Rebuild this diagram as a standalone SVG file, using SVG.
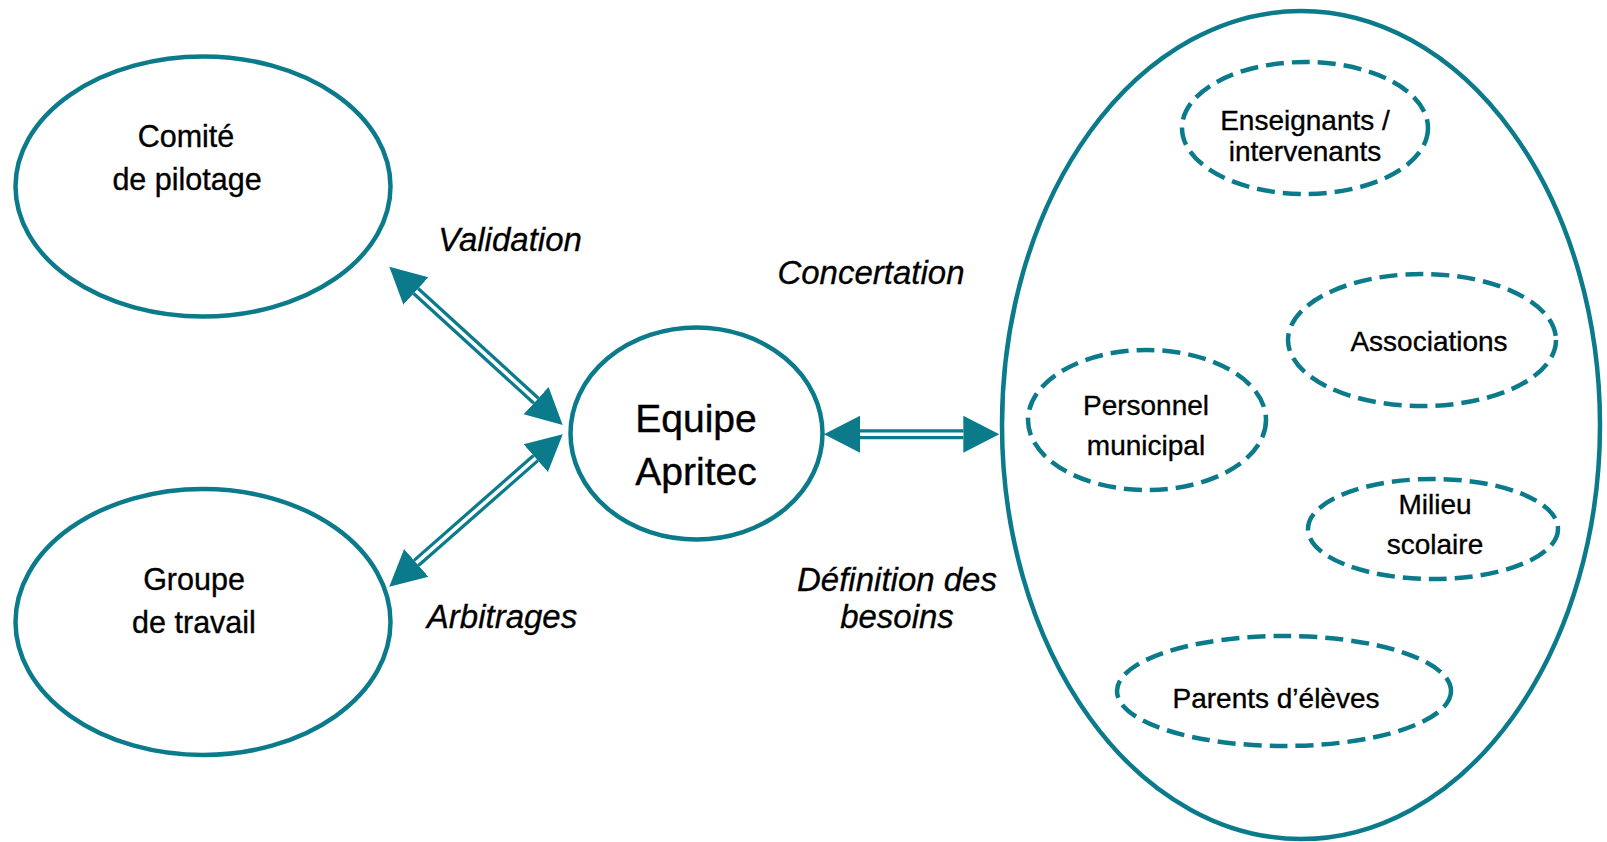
<svg xmlns="http://www.w3.org/2000/svg" width="1607" height="842" viewBox="0 0 1607 842">
<style>
  .node { fill: #ffffff; stroke: #0b7b8c; stroke-width: 4.5; }
  .dash { fill: none; stroke: #0b7b8c; stroke-width: 4.5; stroke-dasharray: 18 8; }
  .lbl { font-family: "Liberation Sans", Arial, sans-serif; font-size: 28px; fill: #000; stroke: #000; stroke-width: 0.35; text-anchor: middle; }
  .lbl2 { font-family: "Liberation Sans", Arial, sans-serif; font-size: 30.5px; fill: #000; stroke: #000; stroke-width: 0.35; text-anchor: middle; }
  .big { font-family: "Liberation Sans", Arial, sans-serif; font-size: 39px; fill: #000; stroke: #000; stroke-width: 0.4; text-anchor: middle; }
  .it { font-family: "Liberation Sans", Arial, sans-serif; font-size: 33px; font-style: italic; fill: #000; stroke: #000; stroke-width: 0.3; text-anchor: middle; }
  .shaft { fill: none; stroke: #0b7b8c; stroke-width: 10; marker-start: url(#head); marker-end: url(#head); }
  .gap { fill: none; stroke: #ffffff; stroke-width: 3.5; }
</style>
<defs>
  <marker id="head" markerUnits="userSpaceOnUse" viewBox="0 -20 40 40" markerWidth="40" markerHeight="40" refX="0" refY="0" orient="auto-start-reverse">
    <path d="M0,-18.5 L36,0 L0,18.5 z" fill="#0b7b8c"/>
  </marker>
</defs>
<rect width="1607" height="842" fill="#ffffff"/>

<g id="comite">
  <ellipse class="node" cx="203" cy="186.5" rx="187.5" ry="130"/>
  <text class="lbl2" x="186" y="147">Comité</text>
  <text class="lbl2" x="187" y="190">de pilotage</text>
</g>
<g id="groupe">
  <ellipse class="node" cx="203" cy="622" rx="187.5" ry="133"/>
  <text class="lbl2" x="194" y="590">Groupe</text>
  <text class="lbl2" x="194" y="633">de travail</text>
</g>
<g id="equipe">
  <ellipse class="node" cx="696.5" cy="433.5" rx="126" ry="106"/>
  <text class="big" x="696" y="432">Equipe</text>
  <text class="big" x="696" y="485">Apritec</text>
</g>
<g id="partenaires">
  <ellipse class="node" cx="1301" cy="425" rx="299" ry="414"/>
</g>
<g id="enseignants">
  <ellipse class="dash" cx="1305" cy="128" rx="123" ry="66"/>
  <text class="lbl" x="1305" y="130">Enseignants /</text>
  <text class="lbl" x="1305" y="161">intervenants</text>
</g>
<g id="associations">
  <ellipse class="dash" cx="1422" cy="340" rx="134" ry="66"/>
  <text class="lbl" x="1429" y="351">Associations</text>
</g>
<g id="personnel">
  <ellipse class="dash" cx="1147" cy="420" rx="119" ry="70"/>
  <text class="lbl" x="1146" y="415">Personnel</text>
  <text class="lbl" x="1146" y="455">municipal</text>
</g>
<g id="milieu">
  <ellipse class="dash" cx="1433" cy="529" rx="125" ry="50"/>
  <text class="lbl" x="1435" y="514">Milieu</text>
  <text class="lbl" x="1435" y="554">scolaire</text>
</g>
<g id="parents">
  <ellipse class="dash" cx="1284" cy="691" rx="167" ry="55"/>
  <text class="lbl" x="1276" y="708">Parents d’élèves</text>
</g>

<g id="connectors">
  <path class="shaft" d="M415.9,291 L536.1,400.7"/>
  <path class="gap" d="M415.9,291 L536.1,400.7"/>
  <path class="shaft" d="M416.3,562.9 L535.7,458.1"/>
  <path class="gap" d="M416.3,562.9 L535.7,458.1"/>
  <path class="shaft" d="M860,434.2 L963.3,434.2"/>
  <path class="gap" d="M860,434.2 L963.3,434.2"/>
</g>

<g id="labels">
  <text class="it" x="510" y="251">Validation</text>
  <text class="it" x="502" y="628">Arbitrages</text>
  <text class="it" x="871" y="284">Concertation</text>
  <text class="it" x="897" y="591">Définition des</text>
  <text class="it" x="897" y="628">besoins</text>
</g>
</svg>
